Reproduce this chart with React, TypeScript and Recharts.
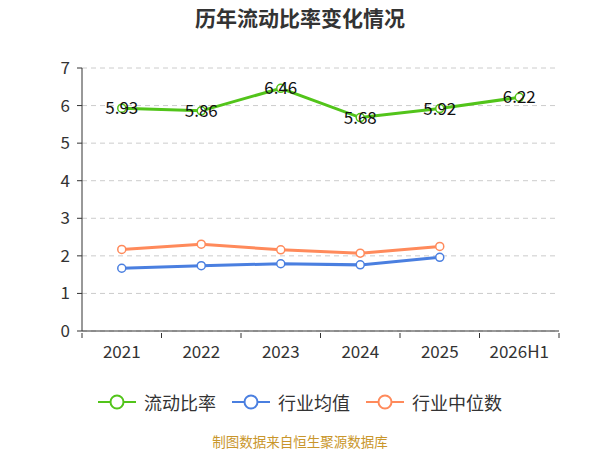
import React from 'react';
import { LineChart, Line, XAxis, YAxis, CartesianGrid, LabelList } from 'recharts';

const years = ['2021', '2022', '2023', '2024', '2025', '2026H1'];
const currentRatio = [5.93, 5.86, 6.46, 5.68, 5.92, 6.22];
const industryAvg = [1.67, 1.74, 1.79, 1.76, 1.96, null];
const industryMedian = [2.17, 2.31, 2.16, 2.07, 2.25, null];
const yTicks = [0, 1, 2, 3, 4, 5, 6, 7];

const GREEN = '#52c41a';
const BLUE = '#4a7fe0';
const ORANGE = '#ff8a5b';

const series = [
  { key: 'ratio', name: '流动比率', color: GREEN },
  { key: 'avg', name: '行业均值', color: BLUE },
  { key: 'median', name: '行业中位数', color: ORANGE },
];

const FONT = '"Noto Sans CJK SC", "Noto Sans", sans-serif';

const BAND = 477 / years.length;

const XTick = (props: any) => {
  const { x, y, payload, index } = props;
  return (
    <g>
      <line x1={x - BAND / 2} y1={y} x2={x - BAND / 2} y2={y + 5} stroke="#333" />
      {index === years.length - 1 && (
        <line x1={x + BAND / 2} y1={y} x2={x + BAND / 2} y2={y + 5} stroke="#333" />
      )}
      <text x={x} y={y + 25} textAnchor="middle" fill="#333" fontSize={17} fontFamily={FONT}>
        {payload.value}
      </text>
    </g>
  );
};

const App: React.FC = () => {
  const data = years.map((year, i) => ({
    year,
    ratio: currentRatio[i],
    avg: industryAvg[i],
    median: industryMedian[i],
  }));

  return (
    <div style={{ position: 'absolute', left: 0, top: 0, width: 600, height: 450, background: '#fff' }}>
      <div
        style={{
          position: 'absolute',
          top: 6,
          width: 600,
          textAlign: 'center',
          fontFamily: FONT,
          fontSize: 21,
          lineHeight: '22px',
          fontWeight: 'bold',
          color: '#333',
        }}
      >
        历年流动比率变化情况
      </div>
      <LineChart width={600} height={450} data={data} margin={{ top: 68, right: 41, left: 42, bottom: 89 }}>
        <CartesianGrid vertical={false} stroke="#ccc" strokeDasharray="5 4" />
        <XAxis
          dataKey="year"
          stroke="#333"
          tickLine={false}
          tickSize={0}
          height={30}
          tick={<XTick />}
          interval={0}
          padding={{ left: BAND / 2, right: BAND / 2 }}
        />
        <YAxis
          width={40}
          domain={[0, 7]}
          ticks={yTicks}
          stroke="#333"
          tickLine={{ stroke: '#333' }}
          tickSize={5}
          tickMargin={7}
          tick={{ fill: '#333', fontSize: 17, fontFamily: FONT }}
        />
        <Line
          dataKey="median"
          name="行业中位数"
          stroke={ORANGE}
          strokeWidth={3}
          dot={{ r: 4, fill: '#fff', stroke: ORANGE, strokeWidth: 1.5 }}
          isAnimationActive={false}
        />
        <Line
          dataKey="avg"
          name="行业均值"
          stroke={BLUE}
          strokeWidth={3}
          dot={{ r: 4, fill: '#fff', stroke: BLUE, strokeWidth: 1.5 }}
          isAnimationActive={false}
        />
        <Line
          dataKey="ratio"
          name="流动比率"
          stroke={GREEN}
          strokeWidth={3}
          dot={{ r: 4, fill: '#fff', stroke: GREEN, strokeWidth: 1.5 }}
          isAnimationActive={false}
        >
          <LabelList dataKey="ratio" position="center" fill="#111" fontSize={17} fontFamily={FONT} />
        </Line>
      </LineChart>
      <div
        style={{
          position: 'absolute',
          top: 391,
          width: 600,
          display: 'flex',
          justifyContent: 'center',
          gap: 16,
          fontFamily: FONT,
          fontSize: 18,
          lineHeight: '22px',
          color: '#333',
        }}
      >
        {series.map((s) => (
          <div key={s.key} style={{ display: 'flex', alignItems: 'center' }}>
            <svg width={38} height={16} style={{ marginRight: 8 }}>
              <line x1={0} y1={8} x2={38} y2={8} stroke={s.color} strokeWidth={2} />
              <circle cx={19} cy={8} r={6.5} fill="#fff" stroke={s.color} strokeWidth={2} />
            </svg>
            <span>{s.name}</span>
          </div>
        ))}
      </div>
      <div
        style={{
          position: 'absolute',
          top: 432,
          width: 600,
          textAlign: 'center',
          fontFamily: FONT,
          fontSize: 13.5,
          lineHeight: '18px',
          color: '#c9962b',
        }}
      >
        制图数据来自恒生聚源数据库
      </div>
    </div>
  );
};

export default App;
